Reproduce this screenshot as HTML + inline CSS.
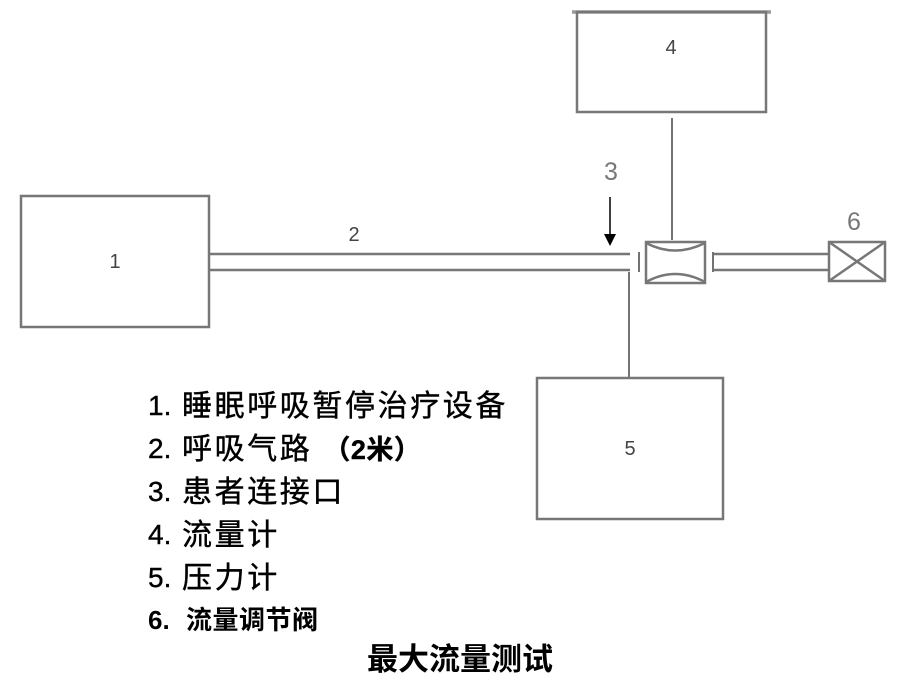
<!DOCTYPE html>
<html><head><meta charset="utf-8"><style>
body{margin:0;background:#fff;}
svg{display:block}
.t{font-family:"Liberation Sans","Noto Sans CJK SC",sans-serif;}
</style></head><body>
<svg width="911" height="695" viewBox="0 0 911 695" xmlns="http://www.w3.org/2000/svg">
<g fill="none" stroke="#777" stroke-width="2.5">
<rect x="21" y="196" width="188" height="131"/>
<line x1="572" y1="12" x2="771" y2="12" stroke-width="3.5" stroke="#999"/>
<rect x="577" y="12" width="189" height="100"/>
<line x1="672" y1="118" x2="672" y2="240" stroke="#444" stroke-width="1.5"/>
<line x1="209" y1="254" x2="630" y2="254"/>
<line x1="209" y1="270" x2="630" y2="270"/>
<line x1="639" y1="252" x2="639" y2="272" stroke="#444" stroke-width="1.5"/>
<rect x="646" y="242" width="59" height="41"/>
<path d="M646 243 Q675 258 705 243 M646 282 Q675 266 705 282"/>
<line x1="713" y1="252" x2="713" y2="272" stroke="#444" stroke-width="1.5"/>
<line x1="714" y1="254" x2="830" y2="254"/>
<line x1="714" y1="270" x2="830" y2="270"/>
<rect x="829" y="242" width="56" height="39"/>
<path d="M829 242 L885 281 M885 242 L829 281"/>
<line x1="629" y1="272" x2="629" y2="378" stroke="#444" stroke-width="1.5"/>
<rect x="537" y="378" width="186" height="141"/>
</g>
<line x1="610" y1="197" x2="610" y2="236" stroke="#000" stroke-width="1.5"/>
<path d="M604 234 L616 234 L610 246 Z" fill="#000"/>
<g class="t" fill="#444" font-size="20" text-anchor="middle">
<text x="115" y="268">1</text>
<text x="354" y="241">2</text>
<text x="671" y="54">4</text>
<text x="630" y="455">5</text>
</g>
<g class="t" fill="#777" font-size="25" text-anchor="middle">
<text x="611" y="180">3</text>
<text x="854" y="230">6</text>
</g>
<g class="t" fill="#000" font-size="28" stroke="#000" stroke-width="0.4">
<text x="148" y="415">1.</text>
<text x="148" y="458">2.</text>
<text x="148" y="501">3.</text>
<text x="148" y="544">4.</text>
<text x="148" y="587">5.</text>
</g>
<g class="t" fill="#000" font-size="30" letter-spacing="2.6" stroke="#000" stroke-width="0.4">
<text x="182" y="416">睡眠呼吸暂停治疗设备</text>
<text x="182" y="459">呼吸气路 <tspan font-weight="bold" font-size="27" letter-spacing="0.5">（2米）</tspan></text>
<text x="182" y="502">患者连接口</text>
<text x="182" y="545">流量计</text>
<text x="182" y="588">压力计</text>
</g>
<text class="t" x="148" y="629" font-weight="bold" font-size="26">6.</text>
<text class="t" x="186" y="629" font-weight="bold" font-size="26" letter-spacing="0.5">流量调节阀</text>
<text class="t" x="460" y="670" font-size="31" font-weight="bold" text-anchor="middle">最大流量测试</text>
</svg>
</body></html>
